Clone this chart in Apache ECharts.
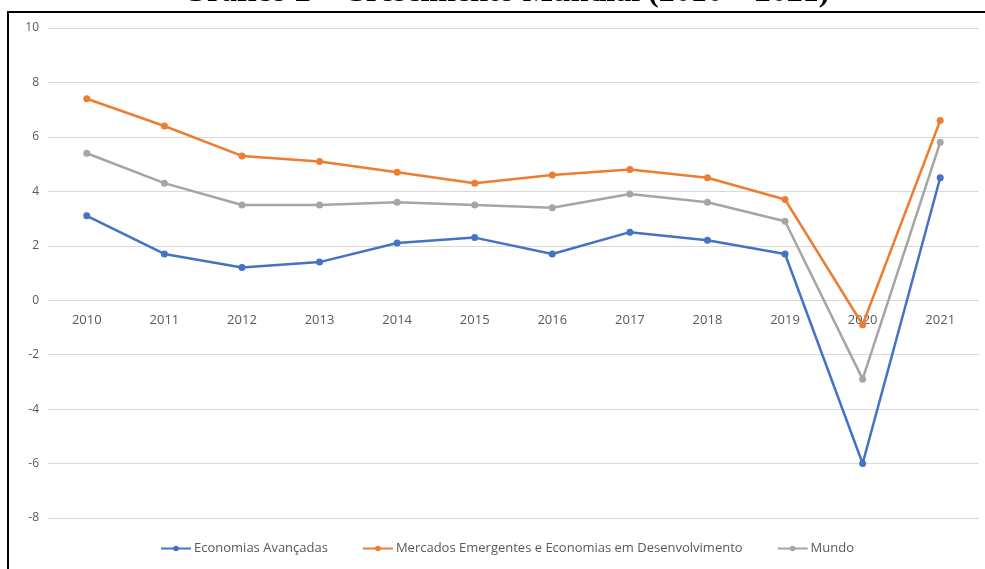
<!DOCTYPE html>
<html>
<head>
<meta charset="utf-8">
<script src="https://cdn.jsdelivr.net/npm/echarts@6/dist/echarts.min.js"></script>
<style>
html,body{margin:0;padding:0;background:#fff;}
#c{width:985px;height:569px;}
</style>
</head>
<body>
<div id="c"></div>
<script>
const title = 'Gráfico 2 – Crescimento Mundial (2010 – 2021)';
const years = ['2010','2011','2012','2013','2014','2015','2016','2017','2018','2019','2020','2021'];
const avancadas = [3.1, 1.7, 1.2, 1.4, 2.1, 2.3, 1.7, 2.5, 2.2, 1.7, -6.0, 4.5];
const emergentes = [7.4, 6.4, 5.3, 5.1, 4.7, 4.3, 4.6, 4.8, 4.5, 3.7, -0.9, 6.6];
const mundo = [5.4, 4.3, 3.5, 3.5, 3.6, 3.5, 3.4, 3.9, 3.6, 2.9, -2.9, 5.8];
const seriesNames = ['Economias Avançadas', 'Mercados Emergentes e Economias em Desenvolvimento', 'Mundo'];
const colors = ['#4472C4', '#ED7D31', '#A5A5A5'];

const chart = echarts.init(document.getElementById('c'));
function mk(name, data, color) {
  return {
    name: name, type: 'line', data: data,
    symbol: 'circle', symbolSize: 7,
    lineStyle: { width: 2.5, color: color },
    itemStyle: { color: color },
    animation: false
  };
}
chart.setOption({
  animation: false,
  color: colors,
  graphic: [
    { type: 'text', left: 182, top: -23,
      style: { text: title, font: 'bold 32px "Liberation Serif", "Times New Roman", serif', fill: '#000' } },
    { type: 'rect', shape: { x: 8, y: 12, width: 990, height: 570 },
      style: { fill: '#fff', stroke: '#000', lineWidth: 2 }, z: -10 }
  ],
  grid: { left: 48, right: 6, top: 28, bottom: 51, containLabel: false },
  legend: {
    bottom: 9, left: 155, itemGap: 34, itemWidth: 30, itemHeight: 7,
    textStyle: { color: '#595959', fontSize: 13, fontFamily: '"Open Sans", sans-serif', padding: [0, 0, 0, -2] },
    data: seriesNames
  },
  xAxis: {
    type: 'category', data: years, boundaryGap: true,
    position: 'bottom', offset: -217,
    axisLine: { show: false },
    axisTick: { show: false },
    axisLabel: { color: '#595959', fontSize: 13, margin: 13, fontFamily: '"Open Sans", sans-serif' }
  },
  yAxis: {
    type: 'value', min: -8, max: 10, interval: 2,
    axisLine: { show: false }, axisTick: { show: false },
    axisLabel: { color: '#595959', fontSize: 12, margin: 9, fontFamily: '"Open Sans", sans-serif' },
    splitLine: { lineStyle: { color: '#d9d9d9', width: 1 } }
  },
  series: [
    mk(seriesNames[0], avancadas, colors[0]),
    mk(seriesNames[1], emergentes, colors[1]),
    mk(seriesNames[2], mundo, colors[2])
  ]
});
</script>
</body>
</html>
